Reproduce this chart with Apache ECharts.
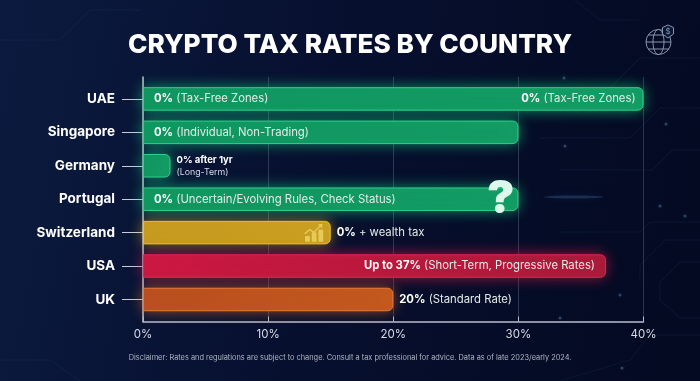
<!DOCTYPE html>
<html>
<head>
<meta charset="utf-8">
<style>
html, body { margin: 0; padding: 0; background: #050b24; }
#chart { width: 700px; height: 381px; }
</style>
<script src="https://cdn.jsdelivr.net/npm/echarts@6/dist/echarts.min.js"></script>
</head>
<body>
<div id="chart"></div>
<script>
var FONT = 'Inter, Lato, sans-serif'

var countries = ['UAE', 'Singapore', 'Germany', 'Portugal', 'Switzerland', 'USA', 'UK']
var rates = [40, 30, 2.2, 30, 15, 37, 20]
var rateText = ['0%', '0%', '0% after 1yr', '0%', '0%', 'Up to 37%', '20%']
var noteText = ['(Tax-Free Zones)', '(Individual, Non-Trading)', '(Long-Term)', '(Uncertain/Evolving Rules, Check Status)', '+ wealth tax', '(Short-Term, Progressive Rates)', '(Standard Rate)']
var xTicks = [0, 40]

var green = { from: '#11945f', to: '#149a64', border: '#2fcf8e', glow: 'rgba(20,220,130,0.6)' }
var yellow = { from: '#c49a20', to: '#c99f22', border: '#ecc22e', glow: 'rgba(240,190,30,0.55)' }
var red = { from: '#cb1843', to: '#a91a3a', border: '#e3254f', glow: 'rgba(235,30,75,0.6)' }
var orange = { from: '#b84e20', to: '#c2591f', border: '#e57a36', glow: 'rgba(240,110,30,0.6)' }
var barStyles = [green, green, green, green, yellow, red, orange]
var labelSpots = ['insideLeft', 'insideLeft', 'right', 'insideLeft', 'right', 'insideRight', 'right']

var chart = echarts.init(document.getElementById('chart'), null, { renderer: 'canvas' })

function richLabel(i) {
    if (i == 2) {
        return '{small|' + rateText[i] + '}\n{smallNote|' + noteText[i] + '}'
    }
    return '{b|' + rateText[i] + '}{n| ' + noteText[i] + '}'
}

var rich = {
    b: { fontFamily: FONT, fontSize: 11.3, fontWeight: 700, color: '#ffffff' },
    n: { fontFamily: FONT, fontSize: 11.3, color: '#e3ebe8' },
    small: { fontFamily: FONT, fontSize: 9.5, fontWeight: 700, color: '#ffffff', lineHeight: 13 },
    smallNote: { fontFamily: FONT, fontSize: 8.8, color: '#d5dae4', lineHeight: 12 }
}

var barData = rates.map(function (v, i) {
    var s = barStyles[i]
    return {
        value: v,
        itemStyle: {
            color: new echarts.graphic.LinearGradient(0, 0, 1, 0, [
                { offset: 0, color: s.from },
                { offset: 1, color: s.to }
            ]),
            borderColor: s.border,
            borderWidth: 1,
            borderRadius: [0, 5, 5, 0],
            shadowBlur: 14,
            shadowColor: s.glow
        },
        label: {
            show: true,
            position: labelSpots[i],
            distance: labelSpots[i] == 'right' ? 6 : 11,
            formatter: richLabel(i),
            rich: rich
        }
    }
})

// circuit traces in the background, purely decoration
var traces = [
    [[700, 58], [640, 58], [610, 88], [560, 88]],
    [[700, 108], [660, 108], [630, 138], [540, 138]],
    [[700, 150], [672, 150], [652, 170], [560, 170]],
    [[700, 222], [650, 222], [640, 232], [560, 232]],
    [[700, 240], [665, 240], [640, 265], [640, 282]],
    [[700, 262], [680, 262], [660, 282], [660, 300], [680, 318], [700, 318]],
    [[700, 335], [650, 335], [630, 360], [560, 381]],
    [[0, 40], [60, 40], [90, 10], [140, 10]],
    [[640, 20], [600, 20], [575, 0]],
    [[0, 360], [50, 360], [80, 381]]
]
var dots = [[564, 78], [666, 124], [565, 146], [660, 206], [685, 216], [560, 318], [620, 295], [622, 368]]

var decor = []
traces.forEach(function (t) {
    decor.push({ type: 'polyline', z: -1, silent: true, shape: { points: t }, style: { fill: null, stroke: 'rgba(90,125,175,0.1)', lineWidth: 1 } })
})
dots.forEach(function (d) {
    decor.push({ type: 'circle', z: -1, silent: true, shape: { cx: d[0], cy: d[1], r: 1.5 }, style: { fill: 'rgba(120,170,215,0.35)', shadowBlur: 5, shadowColor: 'rgba(120,170,215,0.6)' } })
})
decor.push({ type: 'ellipse', z: -1, silent: true, shape: { cx: 574, cy: 197, rx: 30, ry: 1.5 }, style: { fill: 'rgba(90,140,190,0.25)', shadowBlur: 8, shadowColor: 'rgba(90,140,190,0.5)' } })

// globe icon top right
var iconStroke = { fill: null, stroke: '#8796ad', lineWidth: 1 }
decor.push(
    { type: 'circle', silent: true, shape: { cx: 658.5, cy: 42, r: 12.5 }, style: iconStroke },
    { type: 'ellipse', silent: true, shape: { cx: 658.5, cy: 42, rx: 5.5, ry: 12.5 }, style: iconStroke },
    { type: 'line', silent: true, shape: { x1: 646, y1: 42, x2: 671, y2: 42 }, style: iconStroke },
    { type: 'line', silent: true, shape: { x1: 648, y1: 35, x2: 669, y2: 35 }, style: iconStroke },
    { type: 'line', silent: true, shape: { x1: 648, y1: 49, x2: 669, y2: 49 }, style: iconStroke },
    { type: 'polygon', silent: true, shape: { points: [[668, 25], [673.500, 27.500], [673.500, 34], [668, 38], [662.500, 34], [662.500, 27.500]] }, style: { fill: '#0a1633', stroke: '#8796ad', lineWidth: 1 } },
    { type: 'text', silent: true, style: { x: 668, y: 31.500, text: '$', fill: '#8796ad', fontSize: 8, fontFamily: FONT, align: 'center', verticalAlign: 'middle' } }
)

// disclaimer under the axis
decor.push({
    type: 'text',
    silent: true,
    style: {
        x: 350,
        y: 358,
        text: 'Disclaimer: Rates and regulations are subject to change. Consult a tax professional for advice. Data as of late 2023/early 2024.',
        fill: '#aeb5c4',
        fontFamily: FONT,
        fontSize: 7.4,
        align: 'center',
        verticalAlign: 'middle'
    }
})

var coinsPath = 'path://M1 14h5v6h-5zM8 10h5v10h-5zM15 7h5v13h-5zM0 11l6-5 4 3 6-6-1.500-1.500 5-1-1 5-1.500-1.500-7 7-4-3-5 4z'

var option = {
    backgroundColor: new echarts.graphic.LinearGradient(0, 0, 1, 0.35, [
        { offset: 0, color: '#0b1b3f' },
        { offset: 0.45, color: '#071030' },
        { offset: 1, color: '#040a22' }
    ]),
    animation: false,
    title: {
        text: 'CRYPTO TAX RATES BY COUNTRY',
        left: 'center',
        top: 27,
        textStyle: { fontFamily: FONT, fontSize: 26.2, fontWeight: 800, color: '#ffffff' }
    },
    graphic: decor,
    grid: [
        { left: 143, width: 500.5, top: 82.2, height: 234 },
        { left: 143, width: 500.5, top: 77, height: 244.5 }
    ],
    xAxis: [
        { gridIndex: 0, type: 'value', min: xTicks[0], max: xTicks[1], show: false },
        {
            gridIndex: 1,
            type: 'value',
            min: xTicks[0],
            max: xTicks[1],
            interval: 10,
            axisLine: { show: true, lineStyle: { color: '#b9bfcd', width: 1.5 } },
            axisTick: { show: true, inside: true, length: 5, lineStyle: { color: '#b9bfcd' } },
            axisLabel: { margin: 7, fontFamily: FONT, fontSize: 11.5, color: '#d8dce6', formatter: '{value}%', showMinLabel: true, showMaxLabel: true },
            splitLine: { show: true, lineStyle: { color: 'rgba(190,205,225,0.22)', width: 1 } }
        }
    ],
    yAxis: [
        {
            gridIndex: 0,
            type: 'category',
            inverse: true,
            data: countries,
            axisLine: { show: false },
            axisTick: { show: true, alignWithLabel: true, length: 21, lineStyle: { color: '#c9cdd8', width: 1 } },
            axisLabel: { margin: 28, fontFamily: FONT, fontSize: 13.5, fontWeight: 700, color: '#ffffff' }
        },
        {
            gridIndex: 1,
            type: 'value',
            min: 0,
            max: 1,
            axisLine: { show: true, lineStyle: { color: '#b9bfcd', width: 1.5 } },
            axisTick: { show: false },
            axisLabel: { show: false },
            splitLine: { show: false }
        }
    ],
    series: [
        {
            name: 'Tax rate',
            type: 'bar',
            xAxisIndex: 0,
            yAxisIndex: 0,
            barWidth: 23.5,
            barGap: '-100%',
            data: barData,
            emphasis: { disabled: true },
            markPoint: {
                silent: true,
                data: [
                    {
                        coord: [28.6, 'Portugal'],
                        symbol: 'circle',
                        symbolSize: 1,
                        itemStyle: { color: 'transparent' },
                        label: { show: true, position: 'inside', formatter: '?', fontFamily: FONT, fontSize: 46, fontWeight: 900, color: '#dcf8ea' }
                    },
                    {
                        coord: [13.64, 'Switzerland'],
                        symbol: coinsPath,
                        symbolSize: [19, 18],
                        symbolKeepAspect: false,
                        itemStyle: { color: '#ecd264', opacity: 0.85 },
                        label: { show: false }
                    }
                ]
            }
        },
        {
            // UAE carries a second copy of its label at the bar end
            name: 'Right label',
            type: 'bar',
            xAxisIndex: 0,
            yAxisIndex: 0,
            barWidth: 23.5,
            barGap: '-100%',
            silent: true,
            itemStyle: { color: 'transparent' },
            data: [{
                value: rates[0],
                label: { show: true, position: 'insideRight', distance: 8, formatter: richLabel(0), rich: rich }
            }]
        }
    ]
}

chart.setOption(option)
</script>
</body>
</html>
